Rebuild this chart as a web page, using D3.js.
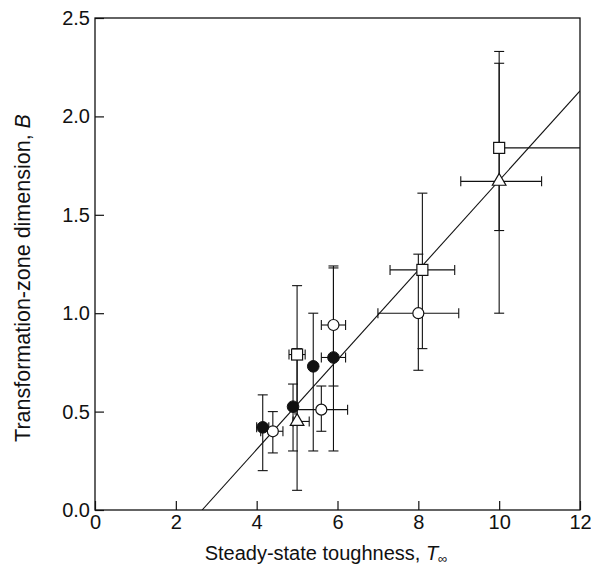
<!DOCTYPE html>
<html>
<head>
<meta charset="utf-8">
<script src="https://cdn.jsdelivr.net/npm/d3@7"></script>
<style>
  body { margin: 0; background: #fff; }
  text { font-family: "Liberation Sans", Arial, sans-serif; fill: #111; }
</style>
</head>
<body>
<div id="chart"></div>
<script>
// tick values
var xTicks = [0, 2, 4, 6, 8, 10, 12]
var yTicks = [0, 0.5, 1.0, 1.5, 2.0, 2.5]

// each point: x, y, x error range, y error range (null = no bar)
var openCircles = [
    { x: 4.4, y: 0.40, xr: [4.1, 4.65], yr: [0.29, 0.50] },
    { x: 5.6, y: 0.51, xr: [4.95, 6.25], yr: [0.40, 0.63] },
    { x: 5.9, y: 0.94, xr: [5.6, 6.2], yr: [0.63, 1.24] },
    { x: 8.0, y: 1.00, xr: [7.0, 9.0], yr: [0.71, 1.30] }
]
var filledCircles = [
    { x: 4.15, y: 0.42, xr: [4.0, 4.3], yr: [0.20, 0.585] },
    { x: 4.9, y: 0.525, xr: null, yr: [0.30, 0.64] },
    { x: 5.4, y: 0.73, xr: null, yr: [0.30, 1.00] },
    { x: 5.9, y: 0.775, xr: [5.6, 6.2], yr: [0.30, 1.23] }
]
var squares = [
    { x: 5.0, y: 0.79, xr: [4.8, 5.2], yr: [0.45, 1.14] },
    { x: 8.1, y: 1.22, xr: [7.3, 8.9], yr: [0.82, 1.61] },
    { x: 10.0, y: 1.84, xr: [10.0, 12.5], yr: [1.42, 2.33] }
]
var triangles = [
    { x: 5.0, y: 0.45, xr: [4.9, 5.3], yr: [0.10, 0.82] },
    { x: 10.0, y: 1.67, xr: [9.05, 11.05], yr: [1.00, 2.27] }
]
// fitted line end points
var fitLine = [[2.65, 0], [12, 2.13]]

var width = 591,
    height = 569
var pLeft = 95, pRight = 580, pTop = 18, pBottom = 510

var x = d3.scaleLinear().domain([0, 12]).range([pLeft, pRight])
var y = d3.scaleLinear().domain([0, 2.5]).range([pBottom, pTop])

var svg = d3.select("#chart").append("svg")
    .attr("width", width)
    .attr("height", height)

svg.append("clipPath").attr("id", "plot")
    .append("rect")
    .attr("x", pLeft).attr("y", pTop)
    .attr("width", pRight - pLeft).attr("height", pBottom - pTop)

// frame
svg.append("rect")
    .attr("x", pLeft).attr("y", pTop)
    .attr("width", pRight - pLeft).attr("height", pBottom - pTop)
    .style("fill", "none")
    .style("stroke", "#111")
    .style("stroke-width", 1.3)

// axes with inward ticks
var xAxis = svg.append("g")
    .attr("transform", "translate(0," + pBottom + ")")
    .call(d3.axisBottom(x).tickValues(xTicks).tickSize(-9).tickPadding(5).tickFormat(d3.format("d")))
var yAxis = svg.append("g")
    .attr("transform", "translate(" + pLeft + ",0)")
    .call(d3.axisLeft(y).tickValues(yTicks).tickSize(-9).tickPadding(5).tickFormat(d3.format(".1f")))

;[xAxis, yAxis].forEach(function(a) {
    a.select(".domain").remove()
    a.selectAll("line").style("stroke", "#111").style("stroke-width", 1.2)
    a.selectAll("text").style("font-size", "20px").style("fill", "#111")
        .style("font-family", '"Liberation Sans", Arial, sans-serif')
})

// axis titles
var xt = svg.append("text")
    .attr("x", 326).attr("y", 560)
    .attr("text-anchor", "middle")
    .style("font-size", "20px")
xt.append("tspan").text("Steady-state toughness, ")
xt.append("tspan").text("T").style("font-style", "italic")
xt.append("tspan").text("\u221e").attr("dy", 3).style("font-size", "13px")

var yt = svg.append("text")
    .attr("transform", "translate(30," + 278 + ") rotate(-90)")
    .attr("text-anchor", "middle")
    .style("font-size", "21.5px")
yt.append("tspan").text("Transformation-zone dimension, ")
yt.append("tspan").text("B").style("font-style", "italic")

var g = svg.append("g").attr("clip-path", "url(#plot)")

// fit line
g.append("line")
    .attr("x1", x(fitLine[0][0])).attr("y1", y(fitLine[0][1]))
    .attr("x2", x(fitLine[1][0])).attr("y2", y(fitLine[1][1]))
    .style("stroke", "#111")
    .style("stroke-width", 1.2)

// error bars
var allPoints = openCircles.concat(filledCircles, squares, triangles)
var cap = 5
allPoints.forEach(function(d) {
    if (d.yr) {
        g.append("line")
            .attr("x1", x(d.x)).attr("x2", x(d.x))
            .attr("y1", y(d.yr[0])).attr("y2", y(d.yr[1]))
        d.yr.forEach(function(v) {
            g.append("line")
                .attr("x1", x(d.x) - cap).attr("x2", x(d.x) + cap)
                .attr("y1", y(v)).attr("y2", y(v))
        })
    }
    if (d.xr) {
        g.append("line")
            .attr("x1", x(d.xr[0])).attr("x2", x(d.xr[1]))
            .attr("y1", y(d.y)).attr("y2", y(d.y))
        d.xr.forEach(function(v) {
            g.append("line")
                .attr("x1", x(v)).attr("x2", x(v))
                .attr("y1", y(d.y) - cap).attr("y2", y(d.y) + cap)
        })
    }
})
g.selectAll("line").style("stroke", "#111").style("stroke-width", 1.1)

// markers
g.selectAll("circle.open").data(openCircles).enter()
    .append("circle")
    .attr("cx", function(d) { return x(d.x) })
    .attr("cy", function(d) { return y(d.y) })
    .attr("r", 5.5)
    .style("fill", "#fff").style("stroke", "#111").style("stroke-width", 1.2)

g.selectAll("circle.filled").data(filledCircles).enter()
    .append("circle")
    .attr("cx", function(d) { return x(d.x) })
    .attr("cy", function(d) { return y(d.y) })
    .attr("r", 5.8)
    .style("fill", "#111").style("stroke", "#111")

g.selectAll("rect.sq").data(squares).enter()
    .append("rect")
    .attr("x", function(d) { return x(d.x) - 5.5 })
    .attr("y", function(d) { return y(d.y) - 5.5 })
    .attr("width", 11).attr("height", 11)
    .style("fill", "#fff").style("stroke", "#111").style("stroke-width", 1.2)

var tri = d3.symbol().type(d3.symbolTriangle).size(80)
g.selectAll("path.tri").data(triangles).enter()
    .append("path")
    .attr("d", tri)
    .attr("transform", function(d) { return "translate(" + x(d.x) + "," + y(d.y) + ")" })
    .style("fill", "#fff").style("stroke", "#111").style("stroke-width", 1.2)
</script>
</body>
</html>
